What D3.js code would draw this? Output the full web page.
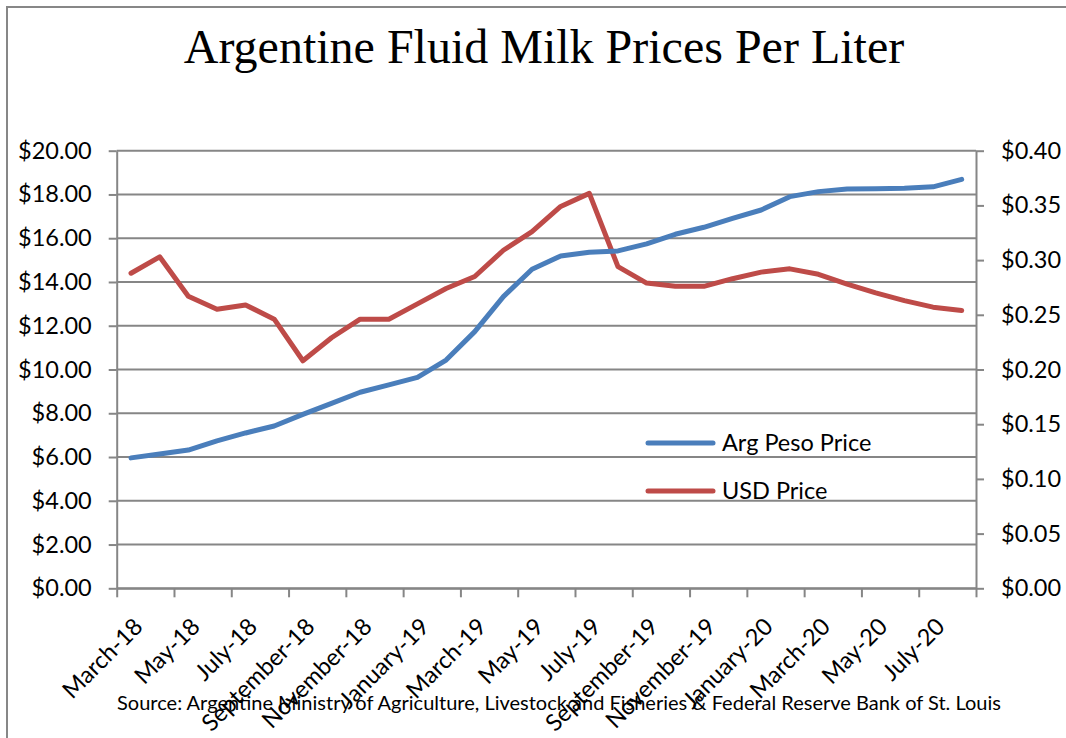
<!DOCTYPE html>
<html>
<head>
<meta charset="utf-8">
<script src="https://cdn.jsdelivr.net/npm/d3@7"></script>
<style>
  body { margin: 0; background: #fff; }
  svg { display: block; }
  .axis text { font-family: Lato, "Noto Sans", sans-serif; font-size: 23.5px; fill: #000; }
  .axis path, .axis line { stroke: #868686; stroke-width: 2px; }
</style>
</head>
<body>
<div id="chart"></div>
<script>
const months = [
  'March-18', 'April-18', 'May-18', 'June-18', 'July-18', 'August-18',
  'September-18', 'October-18', 'November-18', 'December-18', 'January-19', 'February-19',
  'March-19', 'April-19', 'May-19', 'June-19', 'July-19', 'August-19',
  'September-19', 'October-19', 'November-19', 'December-19', 'January-20', 'February-20',
  'March-20', 'April-20', 'May-20', 'June-20', 'July-20', 'August-20'
];
const pesoPrice = [
  5.96, 6.14, 6.32, 6.74, 7.10, 7.42, 7.95, 8.45, 8.96, 9.30,
  9.64, 10.43, 11.73, 13.33, 14.58, 15.19, 15.36, 15.42, 15.74, 16.18,
  16.50, 16.91, 17.29, 17.90, 18.13, 18.25, 18.26, 18.28, 18.35, 18.69
];
const usdPrice = [
  0.288, 0.303, 0.267, 0.255, 0.259, 0.246, 0.208, 0.229, 0.246, 0.246,
  0.260, 0.274, 0.285, 0.309, 0.326, 0.349, 0.361, 0.294, 0.279, 0.276,
  0.276, 0.283, 0.289, 0.292, 0.287, 0.278, 0.270, 0.263, 0.257, 0.254
];
const leftTicks = [0, 2, 4, 6, 8, 10, 12, 14, 16, 18, 20];
const rightTicks = [0, 0.05, 0.10, 0.15, 0.20, 0.25, 0.30, 0.35, 0.40];
const seriesNames = ['Arg Peso Price', 'USD Price'];
const colors = ['#4a7ebb', '#be4b48'];

const width = 1066, height = 738;
const margin = { top: 150.7, right: 90, bottom: 149.7, left: 116.7 };
const plotW = width - margin.left - margin.right;
const plotH = height - margin.top - margin.bottom;

const svg = d3.select('#chart').append('svg')
  .attr('width', width)
  .attr('height', height);

// outer frame
svg.append('rect')
  .attr('x', 7).attr('y', 7)
  .attr('width', 1200).attr('height', 900)
  .attr('fill', 'none')
  .attr('stroke', '#878787')
  .attr('stroke-width', 2);

svg.append('text')
  .attr('x', 544).attr('y', 63)
  .attr('text-anchor', 'middle')
  .style('font-family', '"Liberation Serif", "Times New Roman", serif')
  .style('font-size', '48px')
  .text('Argentine Fluid Milk Prices Per Liter');

const g = svg.append('g')
  .attr('transform', 'translate(' + margin.left + ',' + margin.top + ')');

const x = d3.scaleBand().domain(months).range([0, plotW]);
const xEdge = d3.scaleLinear().domain([0, months.length]).range([0, plotW]);
const yL = d3.scaleLinear().domain([0, 20]).range([plotH, 0]);
const yR = d3.scaleLinear().domain([0, 0.4]).range([plotH, 0]);

// gridlines
g.selectAll('.grid')
  .data(leftTicks)
  .enter()
  .append('line')
  .attr('x1', 0).attr('x2', plotW)
  .attr('y1', d => yL(d)).attr('y2', d => yL(d))
  .attr('stroke', '#868686')
  .attr('stroke-width', 2);

g.append('g')
  .attr('class', 'axis')
  .call(d3.axisLeft(yL).tickValues(leftTicks).tickSize(8).tickSizeOuter(0).tickPadding(17)
    .tickFormat(d => '$' + d.toFixed(2)));

g.append('g')
  .attr('class', 'axis')
  .attr('transform', 'translate(' + plotW + ',0)')
  .call(d3.axisRight(yR).tickValues(rightTicks).tickSize(8).tickSizeOuter(0).tickPadding(17)
    .tickFormat(d => '$' + d.toFixed(2)));

g.append('g')
  .attr('class', 'axis')
  .attr('transform', 'translate(0,' + plotH + ')')
  .call(d3.axisBottom(xEdge).tickValues(d3.range(0, months.length + 1, 2)).tickSize(9).tickSizeOuter(0)
    .tickFormat(''));

// rotated category labels, every other month
g.selectAll('.xlabel')
  .data(months.filter((m, i) => i % 2 === 0))
  .enter()
  .append('text')
  .attr('class', 'xlabel')
  .attr('text-anchor', 'end')
  .attr('dy', '0.35em')
  .attr('transform', d => 'translate(' + (x(d) + x.step() - 7) + ',' + (plotH + 34) + ') rotate(-45)')
  .style('font-family', 'Lato, "Noto Sans", sans-serif')
  .style('font-size', '23.5px')
  .text(d => d);

const linePeso = d3.line()
  .x((d, i) => x(months[i]) + x.bandwidth() / 2)
  .y(d => yL(d));
const lineUsd = d3.line()
  .x((d, i) => x(months[i]) + x.bandwidth() / 2)
  .y(d => yR(d));

g.append('path')
  .datum(usdPrice)
  .attr('d', lineUsd)
  .attr('fill', 'none')
  .attr('stroke', colors[1])
  .attr('stroke-width', 5)
  .attr('stroke-linejoin', 'round')
  .attr('stroke-linecap', 'round');

g.append('path')
  .datum(pesoPrice)
  .attr('d', linePeso)
  .attr('fill', 'none')
  .attr('stroke', colors[0])
  .attr('stroke-width', 5)
  .attr('stroke-linejoin', 'round')
  .attr('stroke-linecap', 'round');

// legend
const legend = svg.selectAll('.legend')
  .data(seriesNames)
  .enter()
  .append('g')
  .attr('class', 'legend')
  .attr('transform', (d, i) => 'translate(648,' + (443 + i * 48) + ')');

legend.append('line')
  .attr('x1', 0).attr('x2', 65)
  .attr('stroke', (d, i) => colors[i])
  .attr('stroke-width', 5)
  .attr('stroke-linecap', 'round');

legend.append('text')
  .attr('x', 74)
  .attr('dy', '0.35em')
  .style('font-family', 'Lato, "Noto Sans", sans-serif')
  .style('font-size', '23.5px')
  .text(d => d);

svg.append('text')
  .attr('x', 559).attr('y', 710)
  .attr('text-anchor', 'middle')
  .style('font-family', 'Lato, "Noto Sans", sans-serif')
  .style('font-size', '20px')
  .text('Source: Argentine Ministry of Agriculture, Livestock and Fisheries & Federal Reserve Bank of St. Louis');
</script>
</body>
</html>
